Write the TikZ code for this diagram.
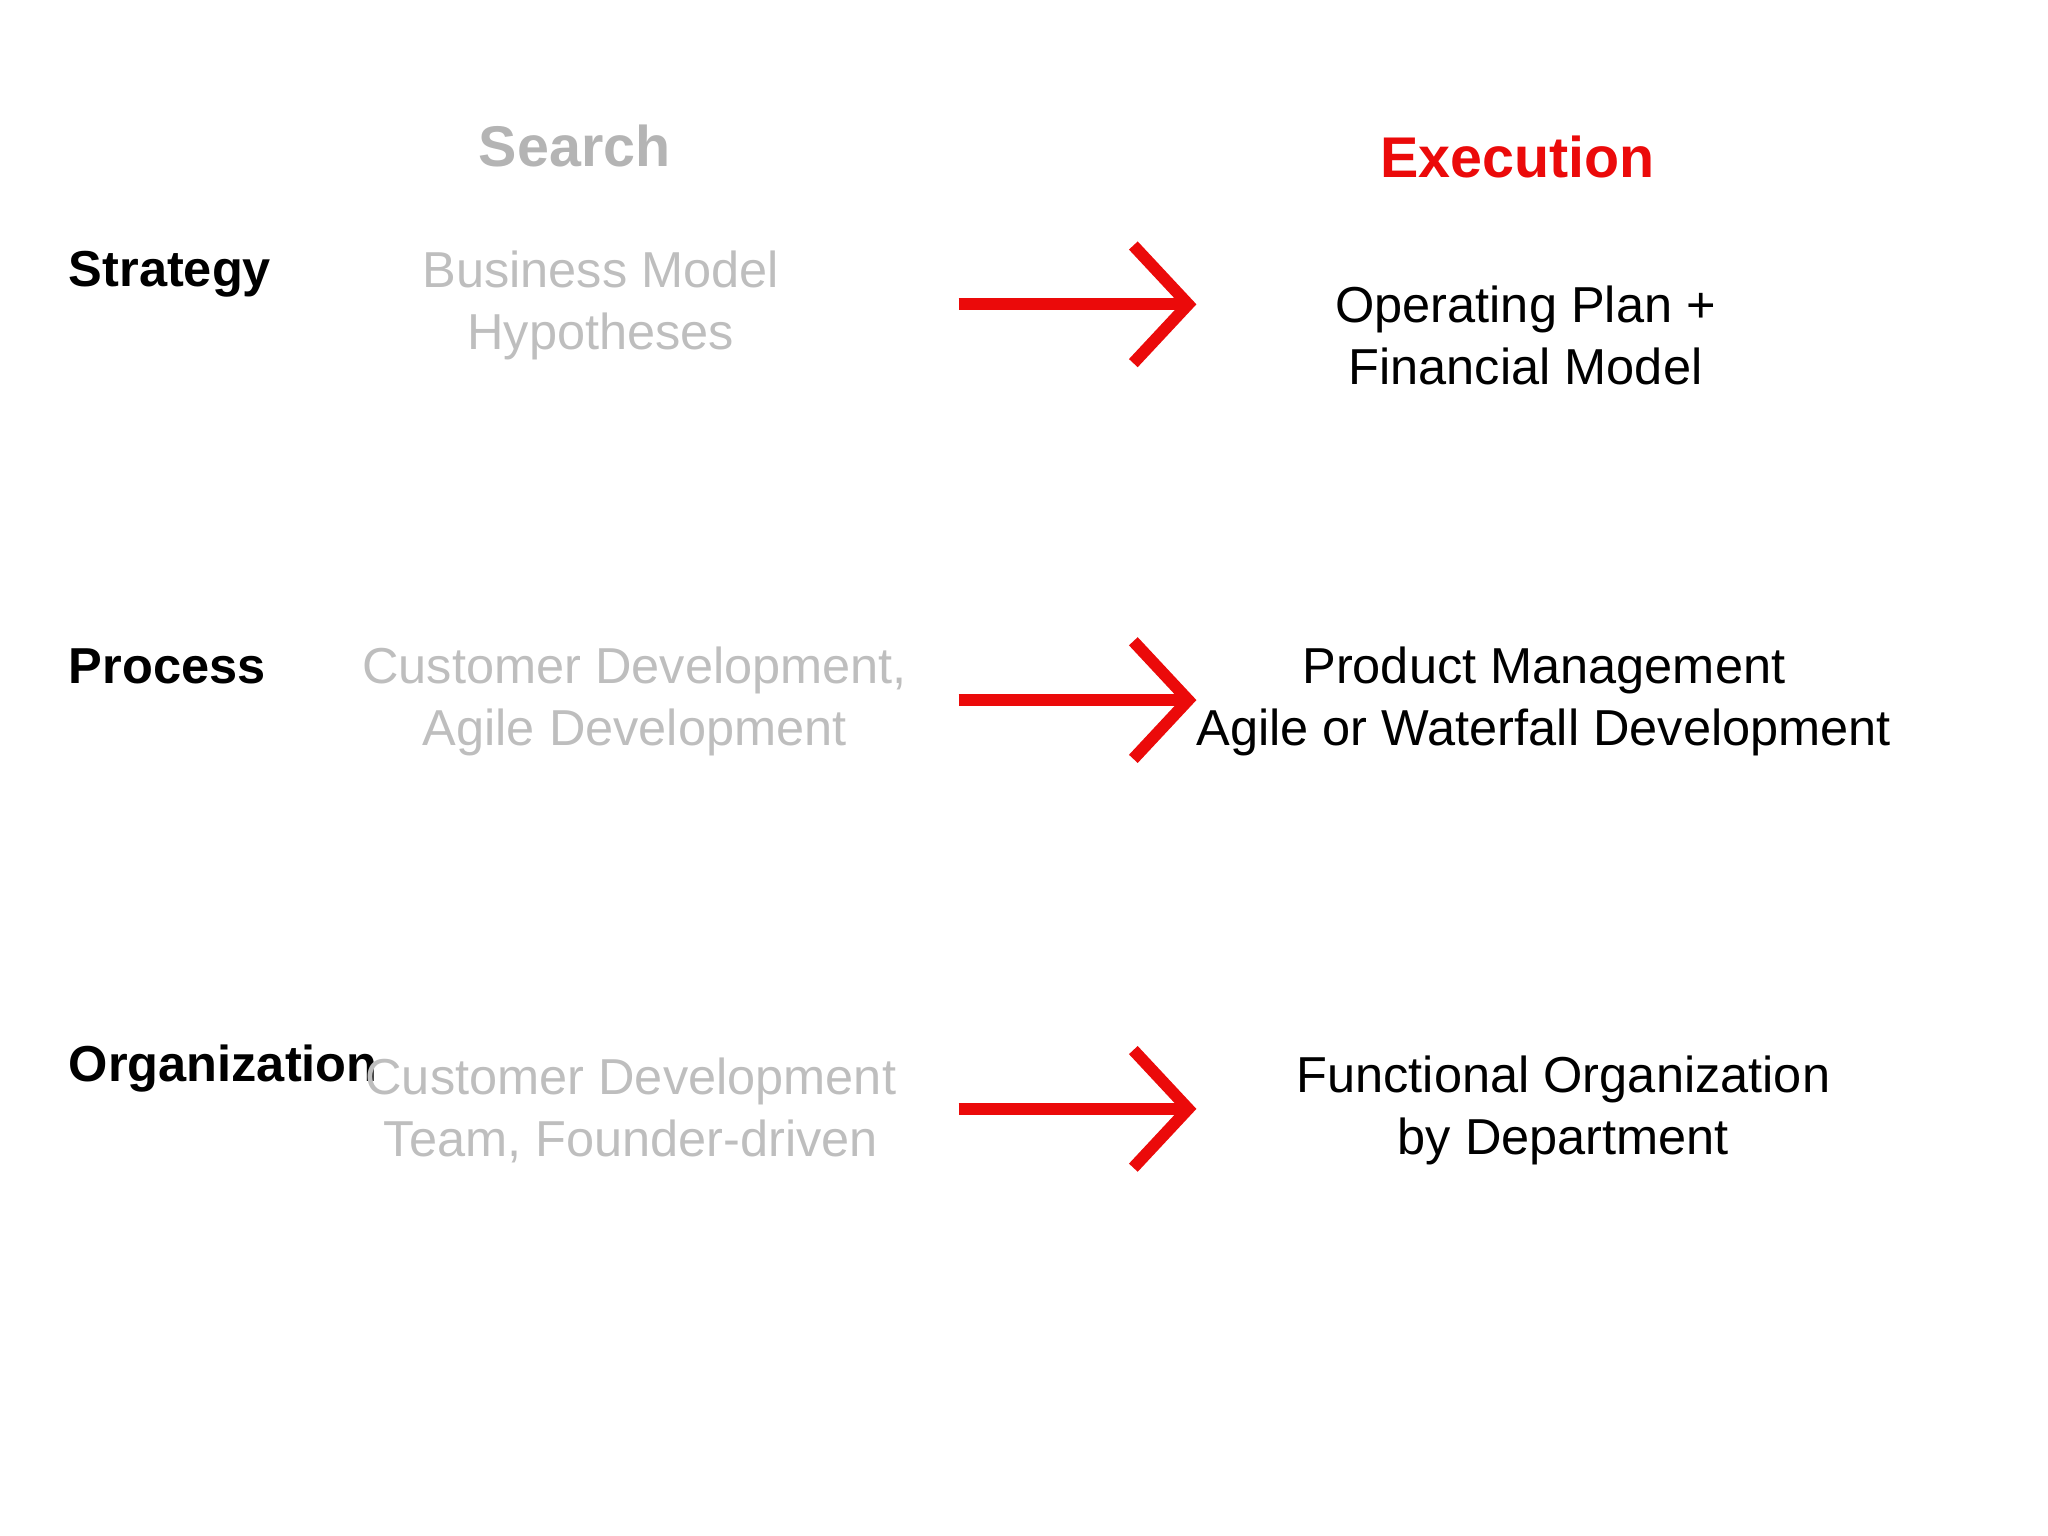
\documentclass[tikz,border=0pt]{standalone}
\usepackage{fontspec}
\setmainfont{Liberation Sans}
\usetikzlibrary{arrows.meta}
\definecolor{lgray}{RGB}{190,190,190}
\definecolor{sgray}{RGB}{180,180,180}
\definecolor{myred}{RGB}{235,10,10}
\tikzset{
 x=0.01cm,y=-0.01cm,
 rowlab/.style={anchor=west,font=\fontsize{11pt}{13.5pt}\selectfont\bfseries,inner sep=0},
 srch/.style={align=center,text=lgray,font=\fontsize{11pt}{13.4pt}\selectfont,inner sep=0},
 exe/.style={align=center,text=black,font=\fontsize{11pt}{13.4pt}\selectfont,inner sep=0},
 redarrow/.style={draw=myred,line width=2.6pt,-{Straight Barb[length=4.2mm,width=9mm,line width=2.6pt]}}
}
\begin{document}
\begin{tikzpicture}
\useasboundingbox (0,0) rectangle (1568,1176);
\node[text=sgray,font=\fontsize{12.5pt}{15pt}\selectfont\bfseries] (search) at (440,112) {Search};
\node[text=myred,font=\fontsize{12.5pt}{15pt}\selectfont\bfseries] (exec) at (1162,120) {Execution};
\node[rowlab] (strat) at (52,210) {Strategy};
\node[rowlab] (proc) at (52,510) {Process};
\node[rowlab] (org) at (52,818) {Organization};
\node[srch] (s1) at (460,234) {Business Model\\Hypotheses};
\node[srch] (s2) at (486,537) {Customer Development,\\Agile Development};
\node[srch] (s3) at (483,850) {Customer Development\\Team, Founder-driven};
\node[exe] (e1) at (1168,257) {Operating Plan +\\Financial Model};
\node[exe] (e2) at (1182,537) {Product Management\\Agile or Waterfall Development};
\node[exe] (e3) at (1197,850) {Functional Organization\\by Department};
\coordinate (a1) at (734,233); \coordinate (b1) at (916,233);
\coordinate (a2) at (734,536); \coordinate (b2) at (916,536);
\coordinate (a3) at (734,849); \coordinate (b3) at (916,849);
\draw[redarrow] (a1) -- (b1);
\draw[redarrow] (a2) -- (b2);
\draw[redarrow] (a3) -- (b3);
\end{tikzpicture}
\end{document}
